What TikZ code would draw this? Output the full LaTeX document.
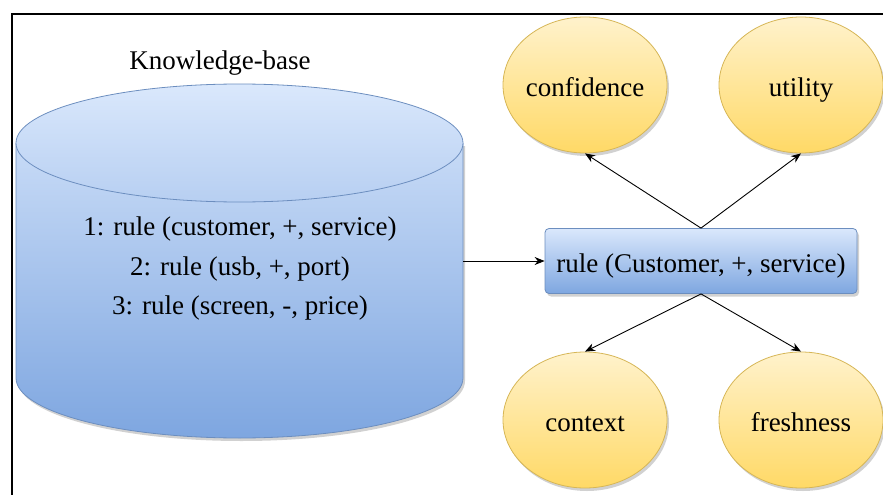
\documentclass[tikz,border=0pt]{standalone}
\usepackage{fontspec}
\setmainfont{LiberationSerif}[Extension=.ttf, UprightFont=*-Regular, BoldFont=*-Bold, ItalicFont=*-Italic, BoldItalicFont=*-BoldItalic]
\usetikzlibrary{arrows.meta,shapes.geometric,shadows}

\begin{document}
\begin{tikzpicture}[x=1pt, y=-1pt, font=\fontsize{27}{39.5}\selectfont,
  softshadow/.style={drop shadow={shadow xshift=2pt, shadow yshift=-3pt, opacity=0.18, fill=black}},
  metric/.style={ellipse, draw=metricline, line width=0.8pt, top color=metrictop, bottom color=metricbot,
    minimum width=164pt, minimum height=136pt, inner xsep=-3pt, inner ysep=0pt,
    text height=22pt, text depth=0pt, softshadow},
  rulebox/.style={rectangle, rounded corners=4pt, draw=kbline, line width=0.8pt, top color=kbtop, bottom color=kbbot,
    minimum width=312pt, minimum height=65pt, inner ysep=0pt, text height=22pt, text depth=0pt, softshadow},
  link/.style={-{Stealth[length=10pt,width=8pt]}, line width=0.9pt}]
% Colors
\definecolor{kbtop}{HTML}{DAE8FC}
\definecolor{kbbot}{HTML}{7EA6E0}
\definecolor{kbline}{HTML}{6C8EBF}
\definecolor{metrictop}{HTML}{FFF2CC}
\definecolor{metricbot}{HTML}{FFD966}
\definecolor{metricline}{HTML}{D6B656}

\useasboundingbox (0,0) rectangle (883,495);

% Frame (top and left edges)
\draw[line width=1.5pt] (12,495) -- (12,14) -- (883,14);

% Knowledge-base cylinder
\path[top color=kbtop!80!kbbot, bottom color=kbbot, softshadow]
  (16,143) -- (16,378) arc[start angle=180, end angle=0, x radius=223.5, y radius=60] -- (463,143) -- cycle;
\draw[kbline, line width=0.8pt]
  (16,143) -- (16,378) arc[start angle=180, end angle=0, x radius=223.5, y radius=60] -- (463,143);
\path[top color=kbtop, bottom color=kbtop!62!kbbot, draw=kbline, line width=0.8pt]
  (239.5,143) ellipse[x radius=223.5, y radius=59];
\node (kbtitle) at (220,63) {Knowledge-base};
\node[align=center] (kbrules) at (240,269) {1: rule (customer, +, service)\\2: rule (usb, +, port)\\3: rule (screen, -, price)};
\coordinate (kbout) at (463,261);

% Selected rule
\node[rulebox] (rule) at (701,261) {rule (Customer, +, service)};

% Rule metrics
\node[metric] (conf) at (585,85) {confidence};
\node[metric] (util) at (801,85) {utility};
\node[metric] (ctx) at (585,420) {context};
\node[metric] (fresh) at (801,420) {freshness};

% Connectors
\draw[link] (kbout) -- (rule.west);
\draw[link] (rule.north) -- (conf.south);
\draw[link] (rule.north) -- (util.south);
\draw[link] (rule.south) -- (ctx.north);
\draw[link] (rule.south) -- (fresh.north);

\end{tikzpicture}
\end{document}
